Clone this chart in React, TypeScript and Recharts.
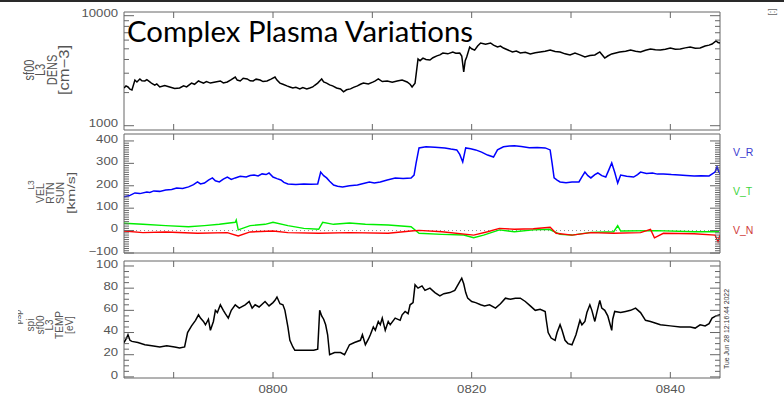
import React from "react";
import { LineChart, Line, XAxis, YAxis, ReferenceArea, ReferenceLine } from "recharts";

const W = 784;
const H = 401;
const PLOT_L = 124;
const PLOT_R = 720;
const AXIS_COLOR = "#666";
const LABEL_COLOR = "#555";
const TICK_FONT = "'Liberation Sans', Arial, sans-serif";

// time axis: minutes after 07:00 UT
const timeTicks = [50, 60, 70, 80, 90, 100];
const timeLabels: Record<number, string> = { 60: "0800", 80: "0820", 100: "0840" };

// density [cm^-3]
const densT = [45.0, 45.2, 45.4, 45.6, 45.8, 46.1, 46.3, 46.6, 46.8, 47.1, 47.3, 47.6, 47.8, 48.1, 48.3, 48.6, 49.1, 49.6, 50.1, 50.6, 51.0, 51.3, 51.8, 52.1, 52.5, 52.8, 53.0, 53.3, 53.7, 54.2, 54.7, 55.0, 55.4, 55.8, 56.2, 56.4, 56.7, 57.0, 57.4, 57.7, 58.0, 58.3, 58.7, 59.0, 59.4, 59.8, 60.2, 60.4, 60.7, 61.0, 61.4, 61.7, 62.0, 62.3, 62.7, 63.0, 63.4, 63.7, 64.0, 64.2, 64.5, 64.7, 64.9, 65.1, 65.4, 65.7, 66.0, 66.4, 66.8, 67.1, 67.4, 67.8, 68.1, 68.5, 68.8, 69.1, 69.6, 70.1, 70.3, 70.6, 71.0, 71.5, 72.0, 72.5, 73.0, 73.5, 73.8, 74.0, 74.3, 74.6, 74.8, 75.1, 75.4, 75.8, 76.1, 76.5, 76.8, 77.1, 77.6, 78.1, 78.4, 78.8, 79.0, 79.2, 79.35, 79.5, 79.8, 80.0, 80.3, 80.6, 80.9, 81.4, 81.9, 82.2, 82.6, 82.9, 83.2, 83.6, 84.1, 84.5, 84.9, 85.4, 85.9, 86.4, 86.9, 87.4, 87.9, 88.4, 88.9, 89.4, 89.9, 90.4, 90.9, 91.4, 91.9, 92.4, 92.9, 93.4, 93.7, 94.1, 94.5, 94.9, 95.5, 96.0, 96.5, 97.0, 97.5, 98.0, 98.5, 99.0, 99.5, 100.0, 100.5, 101.0, 101.5, 102.0, 102.5, 103.0, 103.5, 103.9, 104.2, 104.6, 104.8, 105.0];
const densV = [2200, 2300, 2250, 2150, 2110, 2600, 2500, 2660, 2560, 2550, 2620, 2500, 2420, 2340, 2400, 2250, 2320, 2250, 2180, 2200, 2300, 2250, 2440, 2380, 2550, 2480, 2440, 2520, 2440, 2500, 2550, 2450, 2500, 2620, 2770, 2600, 2550, 2700, 2660, 2560, 2550, 2650, 2600, 2520, 2550, 2650, 2770, 2600, 2440, 2380, 2300, 2250, 2200, 2230, 2160, 2220, 2160, 2200, 2250, 2330, 2440, 2550, 2660, 2500, 2440, 2350, 2300, 2200, 2160, 2030, 2120, 2160, 2230, 2300, 2380, 2440, 2400, 2500, 2560, 2660, 2520, 2550, 2480, 2550, 2600, 2500, 2380, 2250, 2440, 4040, 3900, 4120, 4000, 3950, 4150, 4310, 4400, 4580, 4500, 4680, 4560, 4580, 4300, 3080, 3900, 4220, 5190, 5000, 4870, 5300, 5650, 5500, 5650, 5400, 5190, 5300, 5080, 4900, 4680, 4780, 4580, 4650, 4490, 4600, 4680, 4750, 4870, 4720, 4680, 4500, 4400, 4580, 4400, 4220, 4350, 4400, 4680, 4120, 4300, 4490, 4580, 4680, 4760, 4870, 4750, 4680, 4850, 4980, 4900, 4870, 4960, 5080, 4950, 4980, 5100, 5190, 5050, 5080, 5310, 5400, 5530, 5890, 5700, 5650];

// velocity RTN [km/s]
const vrT = [45.0, 45.5, 46.1, 46.6, 47.3, 47.6, 48.0, 48.6, 49.2, 49.8, 50.3, 50.9, 51.5, 52.0, 52.4, 52.7, 53.1, 53.5, 53.9, 54.2, 54.6, 55.0, 55.4, 55.8, 56.2, 56.7, 57.3, 57.7, 58.1, 58.5, 58.9, 59.3, 59.6, 60.0, 60.4, 60.8, 61.1, 61.5, 62.3, 63.1, 63.8, 64.5, 64.8, 65.1, 65.4, 65.7, 66.1, 66.5, 67.0, 67.7, 68.5, 69.1, 69.7, 70.2, 70.8, 71.5, 72.3, 73.1, 73.9, 74.2, 74.4, 74.7, 75.4, 76.3, 77.3, 77.9, 78.5, 78.8, 79.1, 79.4, 79.9, 80.4, 81.0, 81.6, 82.2, 82.6, 83.2, 83.8, 84.3, 85.0, 85.8, 86.6, 87.4, 87.9, 88.1, 88.3, 88.6, 88.9, 89.5, 90.1, 90.8, 91.1, 91.4, 91.7, 92.0, 92.4, 92.7, 93.1, 93.5, 93.8, 94.1, 94.4, 94.7, 95.0, 95.6, 96.3, 96.7, 97.0, 97.6, 98.2, 98.7, 99.3, 100.1, 100.9, 101.6, 102.4, 103.1, 103.9, 104.5, 104.7, 104.9, 105.0];
const vrV = [151, 155, 168, 165, 172, 170, 177, 175, 181, 183, 190, 188, 195, 205, 217, 208, 212, 225, 235, 222, 217, 230, 239, 228, 235, 242, 239, 246, 248, 244, 253, 250, 257, 239, 232, 226, 215, 208, 206, 208, 207, 208, 261, 245, 235, 220, 203, 198, 195, 200, 203, 210, 217, 212, 217, 226, 235, 232, 235, 248, 300, 369, 374, 372, 369, 364, 360, 340, 306, 369, 365, 360, 350, 337, 328, 360, 374, 377, 379, 375, 370, 371, 369, 360, 300, 235, 225, 217, 214, 217, 217, 240, 261, 245, 235, 250, 257, 245, 239, 270, 302, 260, 212, 248, 242, 239, 250, 261, 255, 257, 252, 253, 250, 248, 246, 244, 245, 244, 261, 284, 261, 255];

const vtT = [45.0, 46.9, 49.2, 51.5, 53.1, 54.6, 56.2, 56.3, 56.5, 57.7, 59.2, 60.0, 61.5, 63.1, 64.6, 65.0, 66.1, 67.7, 69.3, 71.6, 73.9, 74.7, 77.0, 79.2, 80.2, 81.2, 82.8, 84.3, 86.2, 87.8, 88.9, 90.1, 92.0, 94.3, 94.7, 95.0, 98.6, 102.4, 104.9];
const vtV = [33, 28, 22, 17, 22, 28, 37, 47, 3, 22, 28, 37, 22, 10, 6, 37, 28, 34, 28, 25, 17, -12, -17, -20, -32, -20, 3, -5, 3, 6, -17, -20, -8, -5, 22, -2, 0, -5, -5];

const vnT = [45.0, 46.9, 49.2, 52.4, 55.4, 56.5, 57.7, 60.0, 61.5, 64.6, 67.7, 71.6, 73.9, 74.7, 77.0, 80.2, 81.6, 82.8, 84.3, 86.2, 87.9, 88.5, 90.1, 92.0, 94.3, 97.0, 98.0, 98.4, 99.3, 102.4, 104.5, 104.8, 105.0];
const vnV = [-2, -9, -6, -12, -9, -24, -6, -2, -9, -12, -9, -12, -2, 1, -5, -20, -5, 10, 6, 8, 15, -12, -20, -9, -12, -9, 6, -32, -12, -14, -20, -50, -20];

// temperature [eV]
const tempT = [45.0, 45.2, 45.4, 45.6, 45.8, 46.4, 47.1, 47.8, 48.6, 49.3, 50.1, 50.6, 51.1, 51.4, 51.8, 52.2, 52.5, 52.7, 53.0, 53.2, 53.5, 53.7, 54.0, 54.2, 54.4, 54.7, 55.0, 55.2, 55.5, 55.8, 56.2, 56.6, 57.2, 57.6, 57.9, 58.2, 58.6, 59.2, 59.6, 60.0, 60.2, 60.4, 60.7, 61.0, 61.2, 61.5, 61.7, 62.0, 62.2, 62.9, 63.7, 64.1, 64.5, 64.7, 64.9, 65.1, 65.3, 65.5, 65.7, 66.2, 66.8, 67.2, 67.7, 68.2, 68.8, 69.0, 69.3, 69.6, 69.8, 70.1, 70.3, 70.6, 70.8, 71.0, 71.3, 71.6, 71.8, 72.3, 72.8, 73.0, 73.3, 73.6, 73.8, 74.1, 74.3, 74.6, 75.0, 75.3, 75.8, 76.3, 76.8, 77.2, 77.8, 78.3, 78.8, 79.0, 79.2, 79.4, 79.6, 80.0, 80.4, 80.9, 81.3, 81.8, 82.4, 82.9, 83.4, 83.9, 84.4, 84.9, 85.4, 85.9, 86.4, 86.9, 87.4, 87.5, 87.7, 88.0, 88.4, 88.6, 88.9, 89.1, 89.4, 89.7, 90.1, 90.5, 90.9, 91.1, 91.4, 91.6, 91.9, 92.1, 92.4, 92.6, 92.9, 93.1, 93.4, 93.7, 94.1, 94.2, 94.4, 95.0, 95.5, 96.0, 96.5, 97.0, 97.5, 98.0, 99.0, 100.0, 101.0, 102.0, 102.5, 103.0, 103.5, 103.9, 104.2, 104.6, 105.0];
const tempV = [31, 34, 38, 33, 32, 31, 29, 28, 27, 28, 27, 26, 27, 40, 46, 51, 56, 53, 50, 47, 52, 42, 50, 60, 58, 65, 60, 57, 53, 60, 65, 62, 65, 68, 62, 65, 63, 68, 64, 67, 69, 72, 66, 65, 60, 45, 33, 27, 24, 24, 24, 24, 25, 60, 55, 52, 47, 38, 20, 22, 22, 20, 29, 31, 33, 38, 29, 34, 38, 45, 42, 50, 47, 53, 42, 50, 47, 53, 51, 56, 59, 57, 65, 67, 83, 80, 82, 78, 80, 76, 73, 75, 76, 78, 86, 89, 84, 76, 71, 68, 67, 65, 64, 65, 62, 66, 71, 70, 71, 71, 68, 64, 60, 61, 59, 52, 40, 35, 33, 40, 47, 42, 33, 30, 29, 38, 51, 47, 50, 58, 65, 60, 50, 58, 69, 62, 60, 55, 42, 52, 59, 58, 59, 60, 62, 58, 51, 50, 47, 46, 45, 45, 44, 47, 46, 48, 53, 55, 56];

const densTitle = ["sf00", "L3", "DENS", "[cm\u22123]"];
const velTitle = ["VEL", "RTN", "SUN", "[km/s]"];
const tempTitle = ["spi", "sf00", "L3", "TEMP", "[eV]"];

const zip = (t: number[], v: number[]) => t.map((x, i) => ({ t: x, v: v[i] }));
const steps = (a: number, b: number, s: number) => {
  const out: number[] = [];
  for (let x = a; x <= b + 1e-9; x += s) out.push(Math.round(x));
  return out;
};

const densTicks = [1000, 2000, 3000, 4000, 5000, 6000, 7000, 8000, 9000, 10000];
const velTicks = steps(-100, 400, 10);
const tempTicks = steps(0, 100, 5);

function ValueTick(props: any) {
  const { y, payload, isMajor, fmt } = props;
  const v = payload.value;
  const major = isMajor(v);
  const len = major ? 10 : 5;
  return (
    <g>
      <line x1={PLOT_L} x2={PLOT_L + len} y1={y} y2={y} stroke={AXIS_COLOR} />
      <line x1={PLOT_R - len} x2={PLOT_R} y1={y} y2={y} stroke={AXIS_COLOR} />
      {major && (
        <text
          transform={`translate(${PLOT_L - 6} ${y - 2}) scale(1.25 1)`}
          textAnchor="end"
          dy="0.36em"
          fontSize={10.5}
          fill={LABEL_COLOR}
          fontFamily={TICK_FONT}
        >
          {fmt(v)}
        </text>
      )}
    </g>
  );
}

function TimeTick(props: any) {
  const { x, payload, top, bottom, labels } = props;
  const text = labels ? timeLabels[payload.value] : undefined;
  return (
    <g>
      <line x1={x} x2={x} y1={bottom} y2={bottom - 6} stroke={AXIS_COLOR} />
      <line x1={x} x2={x} y1={top} y2={top + 6} stroke={AXIS_COLOR} />
      {text && (
        <text
          transform={`translate(${x} ${bottom + 11}) scale(1.25 1)`}
          textAnchor="middle"
          dy="0.36em"
          fontSize={10.5}
          fill={LABEL_COLOR}
          fontFamily={TICK_FONT}
        >
          {text}
        </text>
      )}
    </g>
  );
}

function Panel(props: any) {
  const { top, bottom, yDomain, yTicks, log, isMajor, fmt, showTimeLabels, children } = props;
  const xh = 20;
  return (
    <div style={{ position: "absolute", left: 0, top: 0 }}>
      <LineChart width={W} height={H} margin={{ top, right: W - PLOT_R, bottom: H - bottom - xh, left: 0 }}>
        <XAxis
          type="number"
          dataKey="t"
          domain={[45, 105]}
          allowDataOverflow
          ticks={timeTicks}
          interval={0}
          height={xh}
          axisLine={false}
          tickLine={false}
          tick={(p: any) => <TimeTick {...p} top={top} bottom={bottom} labels={showTimeLabels} />}
        />
        <YAxis
          type="number"
          width={PLOT_L}
          domain={yDomain}
          scale={log ? "log" : "linear"}
          allowDataOverflow
          ticks={yTicks}
          interval={0}
          axisLine={false}
          tickLine={false}
          tick={(p: any) => <ValueTick {...p} isMajor={isMajor} fmt={fmt} />}
        />
        <ReferenceArea
          x1={45}
          x2={105}
          y1={yDomain[0]}
          y2={yDomain[1]}
          fill="none"
          stroke={AXIS_COLOR}
          strokeWidth={1}
          ifOverflow="visible"
        />
        {children}
      </LineChart>
    </div>
  );
}

function RotLabel(props: { lines: string[]; xs: number[]; cy: number; size: number; stretch?: number; lengths?: (number | undefined)[] }) {
  const { lines, xs, cy, size, lengths } = props;
  const k = props.stretch ?? 1.25;
  return (
    <g fontFamily={TICK_FONT} fontSize={size} fill={LABEL_COLOR}>
      {lines.map((s, i) => (
        <text
          key={s + i}
          transform={`translate(${xs[i] + size * 0.36 * k} ${cy}) rotate(-90) scale(1 ${k})`}
          textAnchor="middle"
          textLength={lengths && lengths[i] ? lengths[i] : undefined}
          lengthAdjust="spacingAndGlyphs"
        >
          {s}
        </text>
      ))}
    </g>
  );
}

function Overlay() {
  return (
    <svg width={W} height={H} style={{ position: "absolute", left: 0, top: 0, pointerEvents: "none" }}>
      <defs>
        <clipPath id="cut3">
          <rect x={18} y={300} width={8} height={40} />
        </clipPath>
      </defs>
      <rect x={0} y={0} width={W} height={2} fill="#2a2a2a" />
      <text x={127} y={42} fontFamily="Lato, 'Open Sans', sans-serif" fontSize={28} fill="#000" textLength={346} lengthAdjust="spacingAndGlyphs">
        Complex Plasma Variations
      </text>
      <RotLabel lines={densTitle} xs={[29, 40.5, 52, 64.5]} cy={70} size={11} lengths={[undefined, undefined, undefined, 50]} />
      <RotLabel lines={["L3"]} xs={[31]} cy={185} size={8.5} stretch={1} />
      <RotLabel lines={velTitle} xs={[40, 50, 60, 70.5]} cy={193} size={10.5} stretch={1.1} lengths={[undefined, undefined, undefined, 42]} />
      <g clipPath="url(#cut3)">
        <RotLabel lines={["psp"]} xs={[18]} cy={317} size={9} stretch={1} />
      </g>
      <RotLabel lines={tempTitle} xs={[30.5, 40, 49.5, 59, 69]} cy={325} size={10} stretch={1.05} />
      <g fontFamily={TICK_FONT} fontSize={10.5} dominantBaseline="central">
        <text x={733} y={152} fill="#3b3bd0">V_R</text>
        <text x={733} y={191} fill="#3fd33f">V_T</text>
        <text x={733} y={230} fill="#d03b3b">V_N</text>
      </g>
      <text
        transform="translate(729 329) rotate(-90)"
        textAnchor="middle"
        fontFamily={TICK_FONT}
        fontSize={7}
        fill="#333"
        textLength={80}
        lengthAdjust="spacingAndGlyphs"
      >
        Tue Jun 28 12:16:44 2022
      </text>
      <text transform="translate(770 12) rotate(90)" textAnchor="middle" fontFamily={TICK_FONT} fontSize={9} fill="#666">
        [:]
      </text>
    </svg>
  );
}

export default function App() {
  return (
    <div style={{ position: "fixed", left: 0, top: 0, width: W, height: H, background: "#fff", overflow: "hidden" }}>
      <Panel
        top={12}
        bottom={130}
        yDomain={[914, 10805]}
        yTicks={densTicks}
        log
        isMajor={(v: number) => v === 1000 || v === 10000}
        fmt={(v: number) => String(v)}
      >
        <Line data={zip(densT, densV)} dataKey="v" stroke="#000" strokeWidth={1.5} dot={false} isAnimationActive={false} />
      </Panel>
      <Panel
        top={134}
        bottom={253}
        yDomain={[-100, 431]}
        yTicks={velTicks}
        isMajor={(v: number) => v % 100 === 0}
        fmt={(v: number) => (v < 0 ? "\u2212" + Math.abs(v) : String(v))}
      >
        <ReferenceLine y={0} stroke="#888" strokeDasharray="1 3" />
        <Line data={zip(vrT, vrV)} dataKey="v" stroke="#0000ff" strokeWidth={1.5} dot={false} isAnimationActive={false} />
        <Line data={zip(vtT, vtV)} dataKey="v" stroke="#00ee00" strokeWidth={1.4} dot={false} isAnimationActive={false} />
        <Line data={zip(vnT, vnV)} dataKey="v" stroke="#ff0000" strokeWidth={1.4} dot={false} isAnimationActive={false} />
      </Panel>
      <Panel
        top={261}
        bottom={378}
        yDomain={[-1, 104.5]}
        yTicks={tempTicks}
        isMajor={(v: number) => v % 20 === 0}
        fmt={(v: number) => String(v)}
        showTimeLabels
      >
        <Line data={zip(tempT, tempV)} dataKey="v" stroke="#000" strokeWidth={1.5} dot={false} isAnimationActive={false} />
      </Panel>
      <Overlay />
    </div>
  );
}
